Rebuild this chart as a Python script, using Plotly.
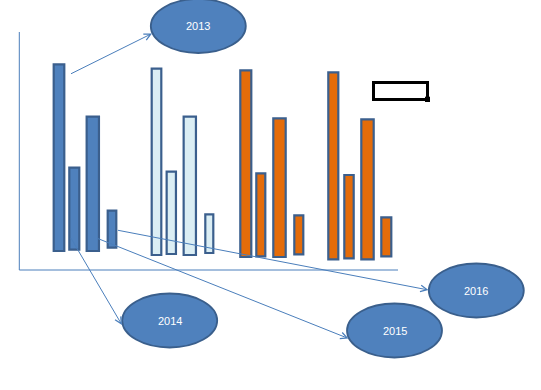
import plotly.graph_objects as go

W, H = 541, 390

# Bar groups (heights of bars, in pixel-like units above each bar's base)
group_names = ["A", "B", "C", "D"]
bar_centers = [
    [59.0, 74.3, 92.8, 112.0],
    [156.5, 171.3, 189.8, 209.3],
    [245.8, 260.8, 279.5, 298.8],
    [333.3, 349.0, 367.5, 386.3],
]
bar_bottoms = [  # pixel row of bar bottoms
    [252.0, 250.7, 252.0, 248.7],
    [256.0, 255.0, 256.0, 254.0],
    [258.0, 257.3, 258.0, 255.3],
    [260.3, 259.3, 260.3, 257.3],
]
bar_heights = [
    [186.7, 82.0, 134.3, 37.0],
    [186.3, 82.3, 138.3, 38.7],
    [186.7, 83.0, 138.7, 39.0],
    [187.0, 83.3, 140.0, 39.0],
]
bar_widths = [
    [10.6, 10.0, 12.3, 8.6],
    [9.6, 9.3, 12.3, 8.0],
    [11.0, 9.0, 12.4, 9.0],
    [10.0, 9.4, 12.4, 10.0],
]
fill_colors = ["#4F81BD", "#DBEEF4", "#E46C0A", "#E46C0A"]
edge_color = "#3B5F8D"
line_color = "#4A7EBB"

# Year bubbles
years = ["2013", "2014", "2015", "2016"]
bubble_cx = [198.3, 169.7, 394.5, 476.3]
bubble_cy = [26.0, 320.5, 330.5, 290.5]
bubble_rx = 47.5
bubble_ry = 27.0

# Arrows (tail -> head), pixel coords
arrow_tail = [(69.5, 74.5), (70.0, 236.5), (96.5, 238.0), (116.5, 230.0)]
arrow_head = [(152.0, 33.5), (122.0, 325.0), (348.5, 338.5), (428.5, 290.0)]


def up(py):
    return H - py


fig = go.Figure()
for gi in range(4):
    fig.add_trace(go.Bar(
        x=bar_centers[gi],
        y=bar_heights[gi],
        base=[up(b) + 1 for b in bar_bottoms[gi]],
        width=bar_widths[gi],
        marker=dict(color=fill_colors[gi], line=dict(color=edge_color, width=2.2)),
        name=group_names[gi],
        hoverinfo="skip",
        showlegend=False,
    ))

shapes = []
# axes lines
shapes.append(dict(type="line", xref="x", yref="y", x0=19.3, x1=19.3, y0=up(32), y1=up(270),
                   line=dict(color=line_color, width=1)))
shapes.append(dict(type="line", xref="x", yref="y", x0=19.3, x1=398, y0=up(270), y1=up(270),
                   line=dict(color=line_color, width=1)))
# bubbles
for cx, cy in zip(bubble_cx, bubble_cy):
    shapes.append(dict(type="circle", xref="x", yref="y",
                       x0=cx - bubble_rx, x1=cx + bubble_rx,
                       y0=up(cy) - bubble_ry, y1=up(cy) + bubble_ry,
                       fillcolor="#4F81BD", line=dict(color="#3A5F8C", width=1.8),
                       layer="above"))
# text box placeholder
shapes.append(dict(type="rect", xref="x", yref="y", x0=373.5, x1=427.5, y0=up(99.5), y1=up(82.5),
                   line=dict(color="black", width=3), fillcolor="rgba(0,0,0,0)"))
shapes.append(dict(type="rect", xref="x", yref="y", x0=425, x1=430, y0=up(102), y1=up(96.7),
                   line=dict(color="black", width=0), fillcolor="black"))

annotations = []
for (tx, ty), (hx, hy) in zip(arrow_tail, arrow_head):
    annotations.append(dict(x=hx, y=up(hy), ax=tx, ay=up(ty), xref="x", yref="y",
                            axref="x", ayref="y", text="", showarrow=True,
                            arrowhead=5, arrowsize=1.3, arrowwidth=1,
                            arrowcolor=line_color, standoff=0))
for yr, cx, cy in zip(years, bubble_cx, bubble_cy):
    annotations.append(dict(x=cx, y=up(cy), xref="x", yref="y", text=yr, showarrow=False,
                            font=dict(family="Liberation Sans", size=11, color="white")))

fig.update_layout(
    width=W, height=H,
    margin=dict(l=0, r=0, t=0, b=0),
    paper_bgcolor="white", plot_bgcolor="white",
    xaxis=dict(range=[0, W], visible=False, fixedrange=True),
    yaxis=dict(range=[0, H], visible=False, fixedrange=True),
    shapes=shapes, annotations=annotations,
    barmode="overlay",
)
fig.write_html(
    "out.html",
    config={"displayModeBar": False},
    post_script="document.body.style.margin='0';document.body.style.overflow='hidden';",
)
